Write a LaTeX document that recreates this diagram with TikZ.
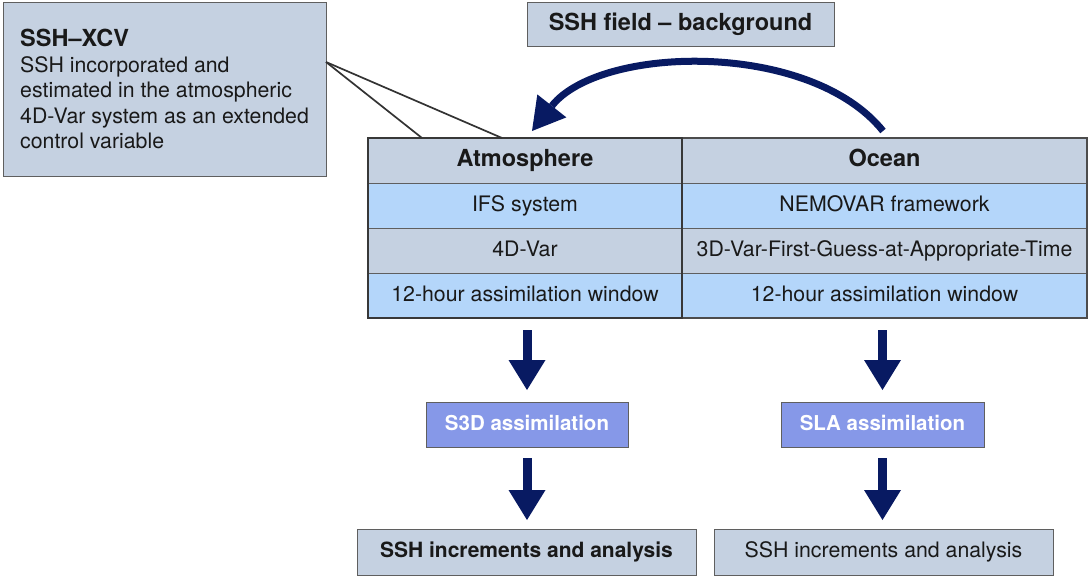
\documentclass[tikz,border=0pt]{standalone}
\usepackage{fontspec}
\setmainfont{TeX Gyre Heros}
\usetikzlibrary{arrows.meta,calc}
\definecolor{gblue}{RGB}{197,209,225}
\definecolor{lblue}{RGB}{180,214,250}
\definecolor{peri}{RGB}{134,152,232}
\definecolor{navy}{RGB}{8,26,98}
\definecolor{edge}{RGB}{95,95,95}
\definecolor{ink}{RGB}{25,25,25}
\newcommand{\hdfont}{\fontsize{23.5}{27}\selectfont\bfseries}
\newcommand{\bdfont}{\fontsize{21.3}{25}\selectfont}
\begin{document}
\begin{tikzpicture}[x=1pt,y=-1pt,
  box/.style={draw=edge,line width=1pt,inner sep=0pt,outer sep=0pt,text=ink,anchor=north west,text height=15.5pt,text depth=4.5pt},
  hdbox/.style={text height=17pt,text depth=5pt},
  atmcell/.style={box,minimum width=314pt,minimum height=45pt},
  occell/.style={box,minimum width=405pt,minimum height=45pt},
  txtline/.style={anchor=base west,inner sep=0pt,text=ink},
  downarrow/.style={navy,line width=9pt,-{Triangle[width=37pt,length=30pt,line width=0pt]}},
  curvearrow/.style={navy,line width=7pt,-{Triangle[width=37pt,length=32pt,line width=0pt]}}]
\useasboundingbox (0,0) rectangle (1090,578);

% SSH-XCV box
\node[box,fill=gblue,minimum width=323pt,minimum height=173pt] (xcv) at (3,3) {};
\node[txtline] (xt0) at (20,47) {\hdfont SSH--XCV};
\node[txtline] (xt1) at (20,73) {\bdfont SSH incorporated and};
\node[txtline] (xt2) at (20,98) {\bdfont estimated in the atmospheric};
\node[txtline] (xt3) at (20,123) {\bdfont 4D-Var system as an extended};
\node[txtline] (xt4) at (20,148) {\bdfont control variable};

% background box
\node[box,hdbox,fill=gblue,minimum width=307pt,minimum height=44pt] (bg) at (527,3) {\hdfont SSH field -- background};

% table: atmosphere
\node[atmcell,hdbox,fill=gblue] (atmH) at (368,138) {\hdfont Atmosphere};
\node[atmcell,fill=lblue] (atm1) at (368,183) {\bdfont IFS system};
\node[atmcell,fill=gblue] (atm2) at (368,228) {\bdfont 4D-Var};
\node[atmcell,fill=lblue] (atm3) at (368,273) {\bdfont 12-hour assimilation window};
% table: ocean
\node[occell,hdbox,fill=gblue] (ocH) at (682,138) {\hdfont Ocean};
\node[occell,fill=lblue] (oc1) at (682,183) {\bdfont NEMOVAR framework};
\node[occell,fill=gblue] (oc2) at (682,228) {\bdfont 3D-Var-First-Guess-at-Appropriate-Time};
\node[occell,fill=lblue] (oc3) at (682,273) {\bdfont 12-hour assimilation window};
\draw[line width=1.4pt,draw=edge!80!black] (ocH.north west) rectangle (oc3.south east);
\draw[line width=2.6pt,draw=black!78] (atmH.north west) rectangle (atm3.south east);

% callout lines
\coordinate (xp) at (326,62);
\coordinate (c1) at (422,138);
\coordinate (c2) at (502,138);
\draw[line width=1.7pt,black!80] (xp) -- (c1);
\draw[line width=1.7pt,black!80] (xp) -- (c2);

% assimilation boxes
\node[box,fill=peri,text=white,minimum width=202pt,minimum height=45pt] (s3d) at (426,402) {\fontsize{20.5}{24}\selectfont\bfseries S3D assimilation};
\node[box,fill=peri,text=white,minimum width=203pt,minimum height=45pt] (sla) at (781,402) {\fontsize{20.5}{24}\selectfont\bfseries SLA assimilation};

% result boxes
\node[box,fill=gblue,minimum width=339pt,minimum height=46pt] (resA) at (357,529) {\fontsize{21}{25}\selectfont\bfseries SSH increments and analysis};
\node[box,fill=gblue,minimum width=339pt,minimum height=46pt] (resO) at (714,529) {\bdfont SSH increments and analysis};

% down arrows
\draw[downarrow] ($(s3d.north |- atm3.south)+(0,12)$) -- ($(s3d.north)+(0,-12)$);
\draw[downarrow] ($(s3d.south)+(0,11)$) -- ($(s3d.south |- resA.north)+(0,-9)$);
\draw[downarrow] ($(sla.north |- oc3.south)+(0,12)$) -- ($(sla.north)+(0,-12)$);
\draw[downarrow] ($(sla.south)+(0,11)$) -- ($(sla.south |- resO.north)+(0,-9)$);

% curved arrow
\coordinate (cs) at (883,131);
\coordinate (ce) at (532,131);
\draw[curvearrow] (cs) .. controls (810,40) and (600,45) .. (ce);
\end{tikzpicture}
\end{document}
